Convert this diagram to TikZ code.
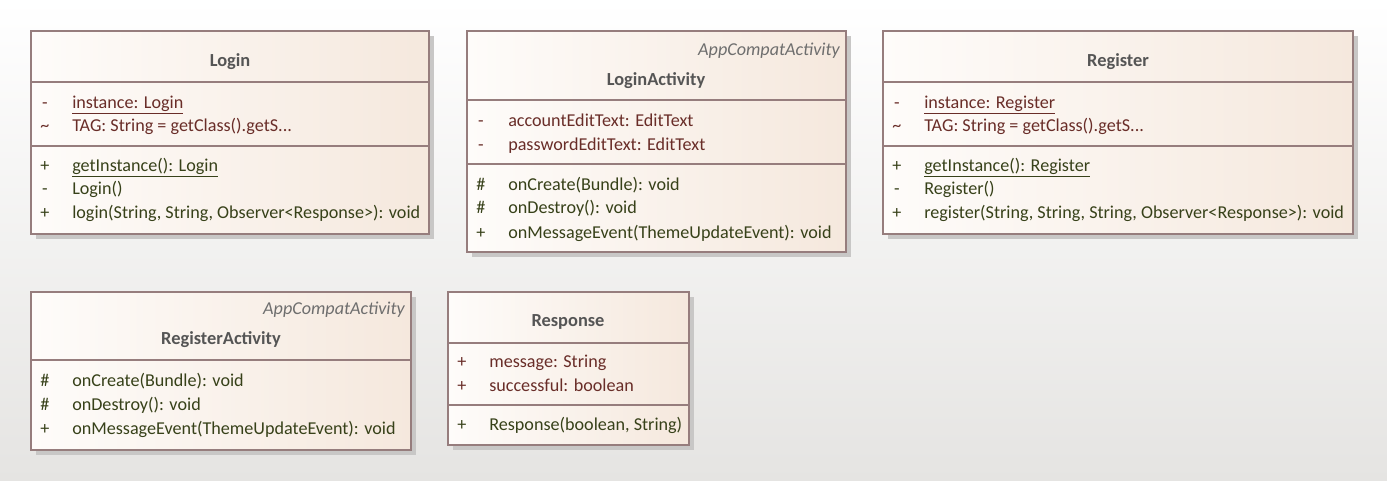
\documentclass[tikz,border=0pt]{standalone}
\usepackage{fontspec}
\setmainfont{Carlito}
\usepackage{tikz}
\usetikzlibrary{calc}
\definecolor{bgbottom}{RGB}{229,228,226}
\definecolor{boxleft}{RGB}{254,252,250}
\definecolor{boxright}{RGB}{245,232,221}
\definecolor{boxline}{RGB}{150,125,125}
\definecolor{shade}{RGB}{200,199,198}
\definecolor{attrcol}{RGB}{105,45,40}
\definecolor{opcol}{RGB}{55,65,25}
\definecolor{titlecol}{RGB}{85,85,85}

\tikzset{
	classbox/.style={draw=boxline, line width=1.1pt, left color=boxleft, right color=boxright},
	boxshadow/.style={fill=shade},
	sepline/.style={draw=boxline, line width=1.1pt},
	title/.style={font=\fontsize{13.8}{15}\selectfont\bfseries, text=titlecol, inner sep=0pt, yshift=-1.5pt},
	stereo/.style={font=\fontsize{13.6}{15}\selectfont\itshape, text=titlecol!85!white, inner sep=0pt, anchor=east, yshift=-1pt},
	attr/.style={font=\fontsize{13.6}{15}\selectfont, text=attrcol, inner sep=0pt, anchor=west, text height=9.8pt, text depth=2.8pt, yshift=-1.2pt},
	op/.style={font=\fontsize{13.6}{15}\selectfont, text=opcol, inner sep=0pt, anchor=west, text height=9.8pt, text depth=2.8pt, yshift=-1.2pt},
	vis/.style={font=\fontsize{13.6}{15}\selectfont, inner sep=0pt, text height=9.8pt, text depth=2.8pt, yshift=-1.2pt}
}

\begin{document}
\begin{tikzpicture}[x=0.75pt, y=-0.75pt]
	\useasboundingbox[top color=white, bottom color=bgbottom] (0,0) rectangle (1387,481);

	% boxes with shadow
	\foreach \xa/\ya/\xb/\yb in {31/31/429/234, 467/31/846/252, 883/31/1353/234, 31/292/411/450, 448/292/689/445}
	{
		\fill[boxshadow] (\xa+5,\ya+5) rectangle (\xb+5,\yb+5);
		\draw[classbox] (\xa,\ya) rectangle (\xb,\yb);
	}
	% compartments
	\foreach \xa/\xb/\y in {31/429/82, 31/429/146, 467/846/100, 467/846/164, 883/1353/82, 883/1353/146, 31/411/360, 448/689/343, 448/689/405}
		\draw[sepline] (\xa,\y) -- (\xb,\y);

	% Login
	\node[title] (login) at (230,60) {Login};
	\node[vis, text=attrcol] (loginV1) at (45,102) {-};
	\node[vis, text=attrcol] (loginV2) at (45,125) {\textasciitilde};
	\node[vis, text=opcol] (loginV3) at (45,165) {+};
	\node[vis, text=opcol] (loginV4) at (45,188) {-};
	\node[vis, text=opcol] (loginV5) at (45,212) {+};
	\node[attr] (loginA1) at (72,102) {\underline{instance: Login}};
	\node[attr] (loginA2) at (72,125) {TAG: String = getClass().getS...};
	\node[op] (loginO1) at (72,165) {\underline{getInstance(): Login}};
	\node[op] (loginO2) at (72,188) {Login()};
	\node[op] (loginO3) at (72,212) {login(String, String, Observer<Response>): void};

	% LoginActivity
	\node[stereo] (loginActStereo) at (840,49) {AppCompatActivity};
	\node[title] (loginAct) at (656,79) {LoginActivity};
	\node[vis, text=attrcol] (loginActV1) at (481,120) {-};
	\node[vis, text=attrcol] (loginActV2) at (481,144) {-};
	\node[vis, text=opcol] (loginActV3) at (481,184) {\#};
	\node[vis, text=opcol] (loginActV4) at (481,207) {\#};
	\node[vis, text=opcol] (loginActV5) at (481,232) {+};
	\node[attr] (loginActA1) at (508,120) {accountEditText: EditText};
	\node[attr] (loginActA2) at (508,144) {passwordEditText: EditText};
	\node[op] (loginActO1) at (508,184) {onCreate(Bundle): void};
	\node[op] (loginActO2) at (508,207) {onDestroy(): void};
	\node[op] (loginActO3) at (508,232) {onMessageEvent(ThemeUpdateEvent): void};

	% Register
	\node[title] (register) at (1118,60) {Register};
	\node[vis, text=attrcol] (registerV1) at (897,102) {-};
	\node[vis, text=attrcol] (registerV2) at (897,125) {\textasciitilde};
	\node[vis, text=opcol] (registerV3) at (897,165) {+};
	\node[vis, text=opcol] (registerV4) at (897,188) {-};
	\node[vis, text=opcol] (registerV5) at (897,212) {+};
	\node[attr] (registerA1) at (924,102) {\underline{instance: Register}};
	\node[attr] (registerA2) at (924,125) {TAG: String = getClass().getS...};
	\node[op] (registerO1) at (924,165) {\underline{getInstance(): Register}};
	\node[op] (registerO2) at (924,188) {Register()};
	\node[op] (registerO3) at (924,212) {register(String, String, String, Observer<Response>): void};

	% RegisterActivity
	\node[stereo] (registerActStereo) at (405,308) {AppCompatActivity};
	\node[title] (registerAct) at (221,338) {RegisterActivity};
	\node[vis, text=opcol] (registerActV1) at (45,380) {\#};
	\node[vis, text=opcol] (registerActV2) at (45,404) {\#};
	\node[vis, text=opcol] (registerActV3) at (45,428) {+};
	\node[op] (registerActO1) at (72,380) {onCreate(Bundle): void};
	\node[op] (registerActO2) at (72,404) {onDestroy(): void};
	\node[op] (registerActO3) at (72,428) {onMessageEvent(ThemeUpdateEvent): void};

	% Response
	\node[title] (response) at (568,320) {Response};
	\node[vis, text=attrcol] (responseV1) at (462,361) {+};
	\node[vis, text=attrcol] (responseV2) at (462,385) {+};
	\node[vis, text=opcol] (responseV3) at (462,424) {+};
	\node[attr] (responseA1) at (489,361) {message: String};
	\node[attr] (responseA2) at (489,385) {successful: boolean};
	\node[op] (responseO1) at (489,424) {Response(boolean, String)};
\end{tikzpicture}
\end{document}
